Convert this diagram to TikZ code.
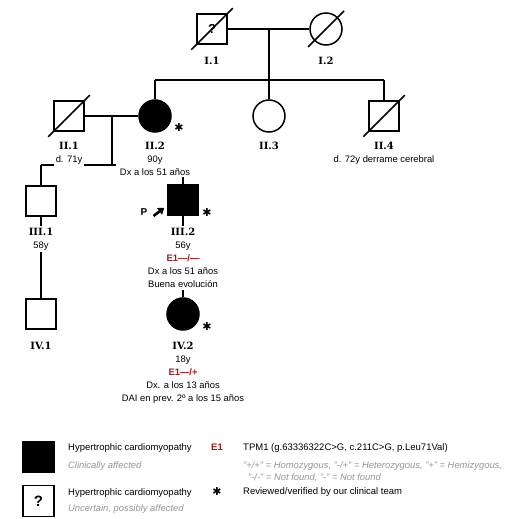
\documentclass[tikz,border=0pt]{standalone}
\usepackage{fontspec}
\setmainfont{Liberation Sans}
\newfontfamily\idfont{DejaVu Serif}
\newfontfamily\symfont{DejaVu Sans}
\usepackage{xcolor}
\usetikzlibrary{arrows.meta,calc,positioning}

\definecolor{mutred}{RGB}{165,28,28}
\definecolor{notegray}{RGB}{150,150,150}
\newcommand{\pedid}[1]{{\idfont\bfseries\fontsize{10}{10}\selectfont #1}}
\newcommand{\revmark}{{\symfont ✱}}

\begin{document}
\begin{tikzpicture}[x=1pt, y=-1pt,
    male/.style={draw, line width=1.5pt, minimum size=30pt, inner sep=0pt},
    female/.style={draw, circle, line width=1.5pt, minimum size=32pt, inner sep=0pt},
    hcm/.style={fill=black},
    rel/.style={line width=1.5pt},
    lbl/.style={fill=white, align=center, anchor=north, inner sep=1.5pt,
        font=\fontsize{9.4}{13.2}\selectfont},
    key/.style={anchor=base west, inner sep=0pt, font=\fontsize{9.5}{11}\selectfont},
    note/.style={key, text=notegray, font=\fontsize{9.4}{11}\selectfont\itshape},
    star/.style={inner sep=0pt, font=\fontsize{11}{11}\selectfont},
    gene/.style={text=mutred, font=\fontsize{9.5}{11}\selectfont\bfseries}]
    \useasboundingbox[fill=white] (0,0) rectangle (513,519);
    % individuals
    \node[male] (I1) at (212,29) {\fontsize{13}{13}\selectfont\bfseries ?};
    \node[female] (I2) at (326,29) {};
    \node[male] (II1) at (69,116) {};
    \node[female, hcm] (II2) at (155,116) {};
    \node[female] (II3) at (269,116) {};
    \node[male] (II4) at (384,116) {};
    \node[male] (III1) at (41,201) {};
    \node[male, hcm] (III2) at (183,200) {};
    \node[male] (IV1) at (41,314) {};
    \node[female, hcm] (IV2) at (183,314) {};
    % deceased
    \foreach \p in {I1,II1,II4}
        \draw[rel] ([shift={(-5,5)}]\p.south west) -- ([shift={(5,-5)}]\p.north east);
    \draw[rel] ([shift={(-18,18)}]I2.center) -- ([shift={(18,-18)}]I2.center);
    % generation I -> II
    \coordinate (m1) at ($(I1)!0.5!(I2)$);
    \coordinate (s1) at ($(m1)+(0,51)$);
    \draw[rel] (I1) -- (I2);
    \draw[rel] (m1) -- (s1);
    \draw[rel] (II2 |- s1) -- (II4 |- s1);
    \foreach \c in {II2,II3,II4}
        \draw[rel] (\c |- s1) -- (\c.north);
    % generation II -> III
    \coordinate (m2) at ($(II1)!0.5!(II2)$);
    \coordinate (s2) at ($(m2)+(0,49)$);
    \draw[rel] (II1) -- (II2);
    \draw[rel] (m2) -- (s2);
    \draw[rel] (III1 |- s2) -- (III2 |- s2);
    \foreach \c in {III1,III2}
        \draw[rel] (\c |- s2) -- (\c.north);
    % generation III -> IV
    \draw[rel] (III1) -- (IV1);
    \draw[rel] (III2) -- (IV2);
    % labels
    \node[lbl] (lI1) at (212,55) {\pedid{I.1}};
    \node[lbl] (lI2) at (326,55) {\pedid{I.2}};
    \node[lbl] (lII1) at (69,140) {\pedid{II.1}\\ d. 71y};
    \node[lbl, inner xsep=4pt] (lII2) at (155,140) {\pedid{II.2}\\ 90y\\ Dx a los 51 años};
    \node[lbl] (lII3) at (269,140) {\pedid{II.3}};
    \node[lbl] (lII4) at (384,140) {\pedid{II.4}\\ d. 72y derrame cerebral};
    \node[lbl] (lIII1) at (41,226) {\pedid{III.1}\\ 58y};
    \node[lbl] (lIII2) at (183,226) {\pedid{III.2}\\ 56y\\ {\color{mutred}\bfseries E1—/—}\\ Dx a los 51 años\\ Buena evolución};
    \node[lbl] (lIV1) at (41,340) {\pedid{IV.1}};
    \node[lbl] (lIV2) at (183,340) {\pedid{IV.2}\\ 18y\\ {\color{mutred}\bfseries E1—/+}\\ Dx. a los 13 años\\ DAI en prev. 2º a los 15 años};
    % reviewed marks
    \node[star] (rII2) at (179,127) {\revmark};
    \node[star] (rIII2) at (207,212) {\revmark};
    \node[star] (rIV2) at (207,326) {\revmark};
    % proband
    \node[inner sep=0pt, font=\fontsize{10}{10}\selectfont\bfseries] (P) at (144,212) {P};
    \draw[line width=2.6pt, -{Triangle[length=6pt, width=8pt]}]
        ([shift={(6,4)}]P.east) -- ([shift={(-3,-8)}]III2.south west);
    % legend
    \node[male, hcm, minimum size=31pt] (keyA) at (38.5,457) {};
    \node[male, minimum size=31pt] (keyB) at (38.5,501) {\fontsize{15}{15}\selectfont\bfseries ?};
    \node[key] (tA) at (68,450.5) {Hypertrophic cardiomyopathy};
    \node[note] (nA) at (68,468) {Clinically affected};
    \node[key] (tB) at (68,495) {Hypertrophic cardiomyopathy};
    \node[note] (nB) at (68,511.5) {Uncertain, possibly affected};
    \node[key, gene] (kE1) at (211,450.5) {E1};
    \node[key] (tE1) at (243,450.5) {TPM1 (g.63336322C>G, c.211C>G, p.Leu71Val)};
    \node[note] (nE1a) at (243,468) {"+/+" = Homozygous, "-/+" = Heterozygous, "+" = Hemizygous,};
    \node[note] (nE1b) at (248,480) {"-/-" = Not found, "-" = Not found};
    \node[star] (kRev) at (217,491) {\revmark};
    \node[key] (tRev) at (243,494.5) {Reviewed/verified by our clinical team};
\end{tikzpicture}
\end{document}
